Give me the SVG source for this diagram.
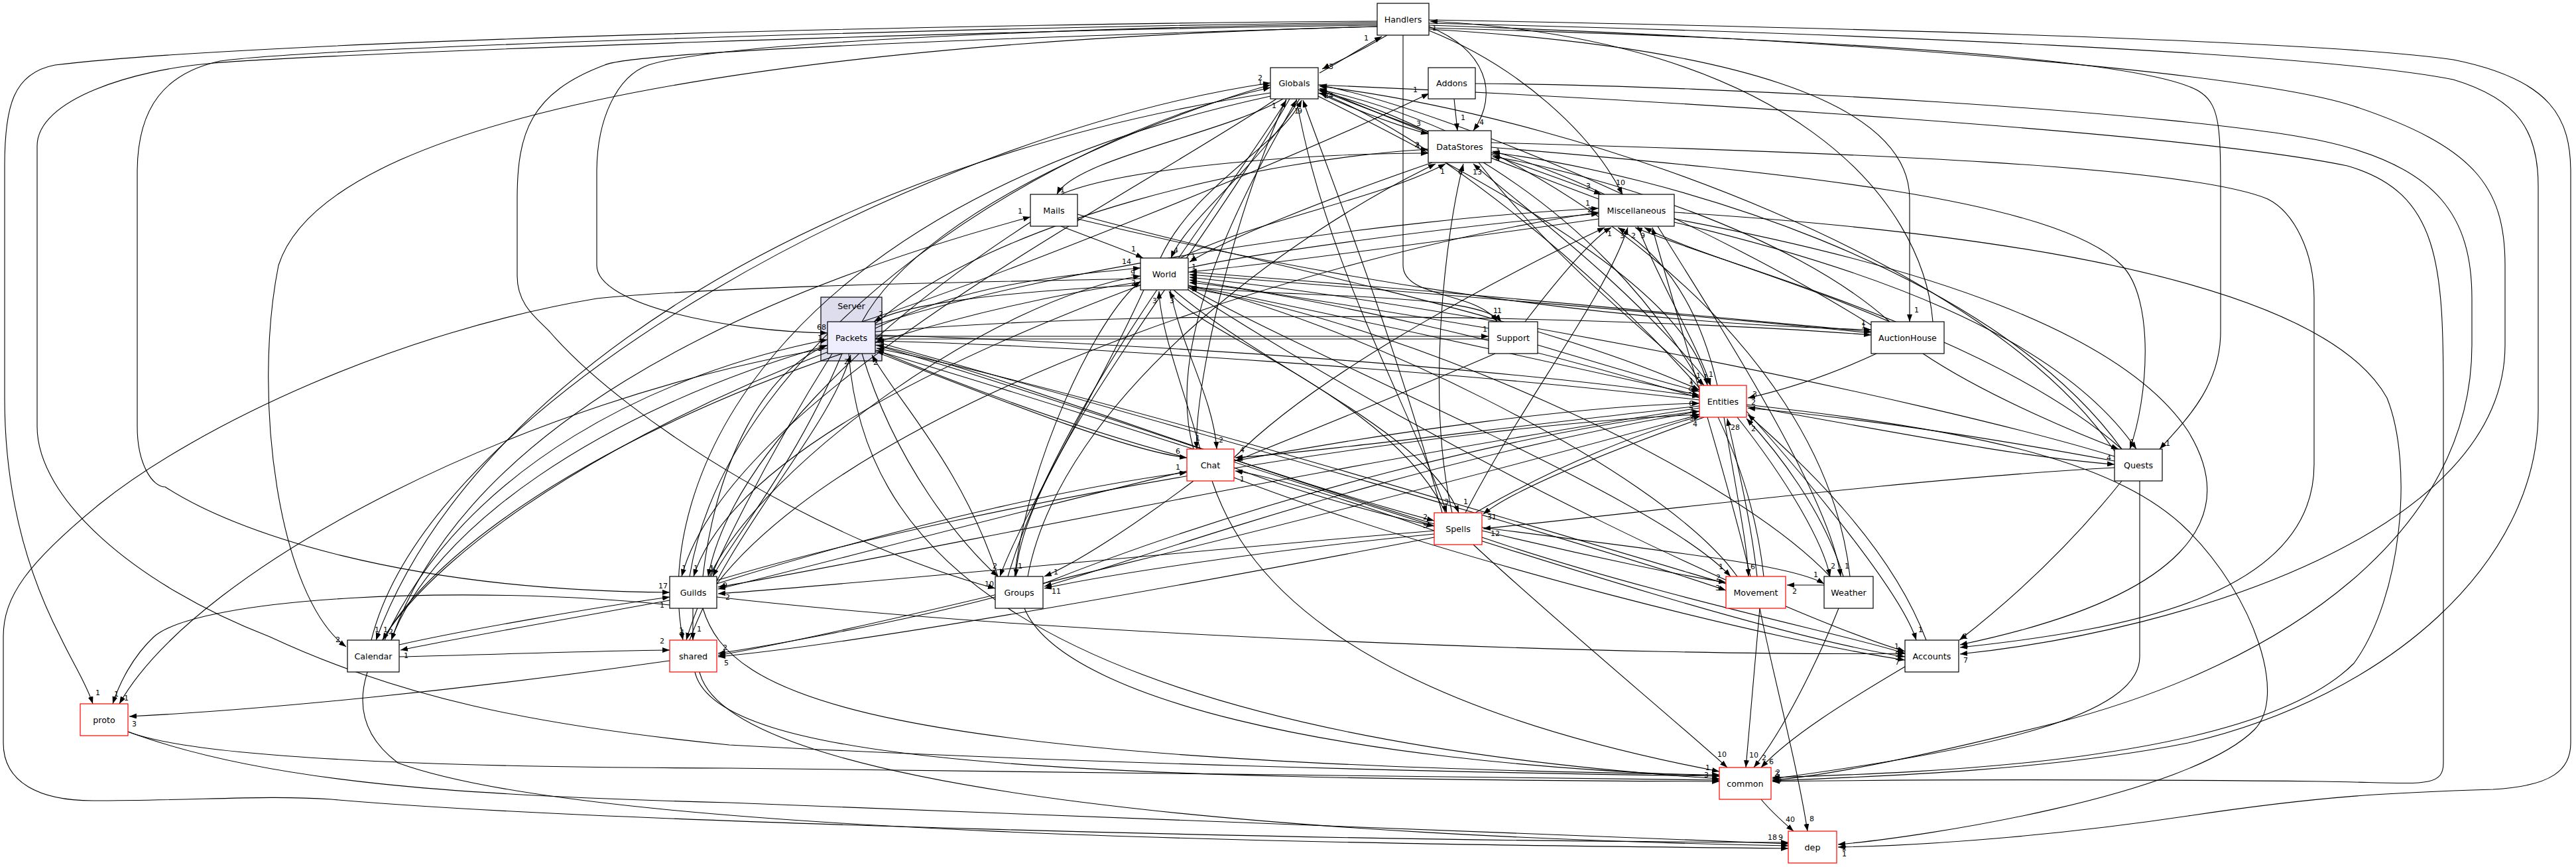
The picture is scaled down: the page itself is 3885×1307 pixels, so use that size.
<svg xmlns="http://www.w3.org/2000/svg" width="3885" height="1307" viewBox="0 0 3885 1307">
<style>
.bg{fill:#fff}
.n rect{fill:#fff;stroke:#000;stroke-width:1.2}
.r rect{stroke:#f00}
.p rect{fill:#eeeeff}
.cl{fill:#ddddee;stroke:#000;stroke-width:1.2}
.t{font-family:"DejaVu Sans",sans-serif;font-size:12.7px;text-anchor:middle;fill:#000}
.e{fill:none;stroke:#000;stroke-width:1.1;marker-end:url(#a)}
.l{font-family:"DejaVu Sans",sans-serif;font-size:11px;fill:#000}
</style>
<defs>
<marker id="a" markerUnits="userSpaceOnUse" markerWidth="11" markerHeight="8" refX="11" refY="4" orient="auto">
<path d="M0,0 L11,4 L0,8 z" fill="#000"/>
</marker>
</defs>
<rect class="bg" x="0" y="0" width="3885" height="1307"/>
<g id="cluster_Server">
<rect class="cl" x="1238" y="448" width="92" height="96"/>
<text class="t" x="1284" y="466">Server</text>
</g>
<g id="connectors">
<path class="e" d="M2092,53 C2060,72 2025,90 1994,104"/><text class="l" x="1997" y="104">43</text>
<path class="e" d="M1990,110 C2022,92 2052,73 2084,55"/><text class="l" x="2057" y="61">1</text>
<path class="e" d="M2155,40 C2240,75 2262,140 2222,197"/><text class="l" x="2231" y="188">4</text>
<path class="e" d="M2155,46 C2290,100 2400,200 2447,293"/><text class="l" x="2437" y="279">10</text>
<path class="e" d="M1988,140 C2050,168 2110,190 2154,202"/><text class="l" x="2136" y="190">3</text>
<path class="e" d="M2193,149 L2198,197"/><text class="l" x="2203" y="181">1</text>
<path class="e" d="M1300,485 C1500,420 1950,240 2155,141"/><text class="l" x="2131" y="139">1</text>
<path class="e" d="M2225,126 C2600,128 3300,170 3500,212 C3680,250 3728,330 3728,450 L3728,520 C3728,800 3450,1000 3100,1090 C2900,1140 2750,1170 2673,1176"/><text class="l" x="2678" y="1168">2</text>
<path class="e" d="M2116,53 L2116,400 C2116,450 2230,440 2258,485"/><text class="l" x="2252" y="472">1</text>
<path class="e" d="M1792,432 C1950,450 2230,440 2264,485"/><text class="l" x="2258" y="472">1</text>
<path class="e" d="M1320,507 L2245,507"/><text class="l" x="2236" y="500">1</text>
<path class="e" d="M2245,511 L1320,511"/><text class="l" x="1326" y="527">1</text>
<path class="e" d="M1935,149 C1850,200 1620,240 1594,293"/><text class="l" x="1599" y="290">1</text>
<path class="e" d="M590,965 C700,650 1100,450 1554,327"/><text class="l" x="1535" y="322">1</text>
<path class="e" d="M1600,341 C1650,360 1700,378 1724,389"/><text class="l" x="1706" y="379">1</text>
<path class="e" d="M1625,323 C1900,400 2300,470 2563,588"/><text class="l" x="2547" y="578">1</text>
<path class="e" d="M1625,330 C1965,413 2400,487 2822,497"/><text class="l" x="2807" y="490">1</text>
<path class="e" d="M1960,149 C1900,250 1790,330 1766,389"/><text class="l" x="1770" y="381">4</text>
<path class="e" d="M1750,389 C1800,280 1930,220 1963,151"/><text class="l" x="1957" y="171">9</text>
<path class="e" d="M2160,245 C2000,300 1850,360 1794,395"/><text class="l" x="1796" y="390">1</text>
<path class="e" d="M1780,389 C1900,330 2080,300 2180,247"/><text class="l" x="2172" y="262">1</text>
<path class="e" d="M2411,330 C2200,360 1900,400 1794,410"/><text class="l" x="1797" y="406">1</text>
<path class="e" d="M1792,404 C1900,380 2200,340 2411,322"/><text class="l" x="2394" y="320">2</text>
<path class="e" d="M2563,600 C2300,520 1950,440 1794,426"/><text class="l" x="1797" y="439">5</text>
<path class="e" d="M1792,430 C2000,470 2400,560 2563,596"/><text class="l" x="2546" y="592">9</text>
<path class="e" d="M1320,495 C1450,430 1600,415 1720,404"/><text class="l" x="1692" y="398">14</text>
<path class="e" d="M1720,430 C1500,440 1360,460 1318,485"/><text class="l" x="1325" y="477">2</text>
<path class="e" d="M1810,677 C1790,600 1750,500 1748,439"/><text class="l" x="1738" y="457">3</text>
<path class="e" d="M1765,437 C1780,520 1830,600 1835,677"/><text class="l" x="1838" y="667">2</text>
<path class="e" d="M2180,773 C2100,600 1800,500 1763,439"/><text class="l" x="1764" y="457">3</text>
<path class="e" d="M1070,869 C1150,700 1500,450 1720,416"/><text class="l" x="1705" y="415">9</text>
<path class="e" d="M1530,869 C1550,700 1650,480 1720,424"/><text class="l" x="1706" y="430">2</text>
<path class="e" d="M3189,688 C2900,600 2200,460 1794,418"/>
<path class="e" d="M2620,869 C2500,700 2000,470 1794,432"/>
<path class="e" d="M2760,869 C2600,700 2100,480 1794,435"/>
<path class="e" d="M2822,502 C2500,470 2000,430 1794,414"/>
<path class="e" d="M2245,495 C2100,470 1900,440 1794,422"/>
<path class="e" d="M1988,135 C2150,200 2330,260 2415,293"/><text class="l" x="2392" y="284">3</text>
<path class="e" d="M1320,490 C1600,400 2100,330 2411,314"/><text class="l" x="2391" y="310">1</text>
<path class="e" d="M1081,880 C1300,600 2000,380 2411,320"/>
<path class="e" d="M2590,581 C2560,450 2500,380 2440,343"/><text class="l" x="2424" y="356">1</text>
<path class="e" d="M2470,341 C2500,420 2560,520 2580,581"/><text class="l" x="2569" y="572">1</text>
<path class="e" d="M2210,773 C2300,600 2420,450 2455,343"/><text class="l" x="2443" y="359">3</text>
<path class="e" d="M3200,677 C3000,500 2600,400 2466,343"/><text class="l" x="2460" y="359">2</text>
<path class="e" d="M2850,485 C2700,420 2550,380 2480,343"/><text class="l" x="2474" y="359">9</text>
<path class="e" d="M2640,869 C2600,700 2520,450 2492,343"/>
<path class="e" d="M2300,485 C2350,420 2400,360 2430,343"/>
<path class="e" d="M1861,690 C2000,550 2300,400 2420,343"/>
<path class="e" d="M2411,300 C2250,240 2050,160 1990,133"/><text class="l" x="1997" y="148">24</text>
<path class="e" d="M2420,293 C2350,260 2280,235 2251,228"/><text class="l" x="2255" y="242">2</text>
<path class="e" d="M1320,488 C1500,330 1900,240 2154,225"/><text class="l" x="2134" y="224">4</text>
<path class="e" d="M1600,293 C1700,250 2000,230 2154,231"/><text class="l" x="2134" y="222">2</text>
<path class="e" d="M2580,581 C2450,420 2280,300 2222,247"/><text class="l" x="2221" y="263">13</text>
<path class="e" d="M2190,773 C2150,600 2180,350 2207,247"/><text class="l" x="2199" y="263">6</text>
<path class="e" d="M3200,677 C3000,400 2500,260 2251,230"/><text class="l" x="2256" y="232">1</text>
<path class="e" d="M2850,485 C2700,350 2400,260 2251,236"/>
<path class="e" d="M2230,245 C2350,400 2520,530 2570,581"/><text class="l" x="2558" y="570">1</text>
<path class="e" d="M1550,869 C1600,600 1950,350 2165,247"/>
<path class="e" d="M1300,485 C1400,300 1800,160 1916,128"/><text class="l" x="1897" y="121">2</text>
<path class="e" d="M560,965 C650,600 1400,200 1916,125"/><text class="l" x="1897" y="128">1</text>
<path class="e" d="M1040,869 C1100,500 1600,200 1916,132"/>
<path class="e" d="M1520,869 C1600,600 1850,300 1940,151"/><text class="l" x="1918" y="163">1</text>
<path class="e" d="M2563,585 C2400,400 2150,200 1990,140"/>
<path class="e" d="M2175,773 C2100,500 2000,250 1965,151"/>
<path class="e" d="M3189,680 C3000,400 2400,180 1990,130"/>
<path class="e" d="M2822,490 C2600,350 2200,170 1990,128"/>
<path class="e" d="M1800,677 C1750,500 1900,250 1955,151"/><text class="l" x="1952" y="171">1</text>
<path class="e" d="M2790,869 C2750,500 2300,200 1990,135"/>
<path class="e" d="M2660,869 C2620,500 2300,220 1990,137"/>
<path class="e" d="M2077,36 C1700,40 1100,60 978,98 C930,115 900,180 900,260 L900,400 C900,460 1100,500 1248,502"/><text class="l" x="1232" y="497">68</text>
<path class="e" d="M1060,869 C1080,700 1150,560 1248,520"/><text class="l" x="1233" y="529">1</text>
<path class="e" d="M580,965 C700,700 1000,560 1248,512"/><text class="l" x="1233" y="513">1</text>
<path class="e" d="M2563,603 C2200,560 1600,520 1322,514"/>
<path class="e" d="M1505,869 C1450,700 1350,600 1315,535"/><text class="l" x="1317" y="550">2</text>
<path class="e" d="M1040,965 C1100,800 1250,650 1283,535"/><text class="l" x="1273" y="549">2</text>
<path class="e" d="M2163,790 C1800,680 1500,560 1322,520"/>
<path class="e" d="M2603,880 C2200,760 1600,580 1322,525"/>
<path class="e" d="M1790,690 C1600,640 1400,560 1322,528"/>
<path class="e" d="M1320,530 C1500,600 1700,680 1790,690"/><text class="l" x="1773" y="684">6</text>
<path class="e" d="M1300,533 C1350,700 1450,820 1505,869"/>
<path class="e" d="M1270,533 C1200,700 1100,820 1075,869"/><text class="l" x="1070" y="862">1</text>
<path class="e" d="M1255,533 C1150,700 1060,880 1035,965"/><text class="l" x="1026" y="957">1</text>
<path class="e" d="M1250,520 C900,620 650,800 590,965"/><text class="l" x="586" y="956">2</text>
<path class="e" d="M1248,525 C800,600 300,850 180,1061"/><text class="l" x="187" y="1056">1</text>
<path class="e" d="M1280,533 C1300,800 1500,1100 2593,1174"/>
<path class="e" d="M1250,530 C800,700 400,1000 600,1150 C900,1260 2000,1272 2697,1279"/>
<path class="e" d="M1045,917 L1045,965"/><text class="l" x="1051" y="952">1</text>
<path class="e" d="M1010,905 C900,925 700,960 604,980"/><text class="l" x="609" y="992">1</text>
<path class="e" d="M602,972 C700,950 900,915 1010,900"/><text class="l" x="995" y="916">1</text>
<path class="e" d="M1060,917 C1100,1050 1300,1150 2593,1168"/>
<path class="e" d="M1081,900 C1600,960 2500,990 2873,985"/><text class="l" x="2857" y="978">1</text>
<path class="e" d="M1790,710 C1500,780 1200,860 1083,888"/><text class="l" x="1090" y="886">9</text>
<path class="e" d="M2163,800 C1800,830 1300,880 1083,895"/><text class="l" x="1094" y="904">2</text>
<path class="e" d="M2563,615 C2000,700 1300,850 1083,885"/>
<path class="e" d="M1800,725 C1700,800 1620,850 1575,869"/><text class="l" x="1589" y="866">1</text>
<path class="e" d="M2163,805 C1900,830 1650,870 1575,887"/><text class="l" x="1586" y="895">11</text>
<path class="e" d="M2563,620 C2100,700 1700,850 1575,884"/>
<path class="e" d="M1501,900 C1350,940 1150,975 1083,985"/><text class="l" x="1090" y="980">2</text>
<path class="e" d="M2163,810 C1800,880 1300,970 1083,990"/><text class="l" x="1092" y="1003">5</text>
<path class="e" d="M2563,625 C2000,780 1300,950 1083,988"/>
<path class="e" d="M1545,917 C1600,1050 2000,1150 2593,1170"/>
<path class="e" d="M2654,917 L2633,1157"/><text class="l" x="2638" y="1142">10</text>
<path class="e" d="M2654,917 C2670,1000 2710,1150 2726,1253"/><text class="l" x="2729" y="1238">8</text>
<path class="e" d="M2773,917 C2740,1000 2690,1100 2645,1157"/><text class="l" x="2657" y="1146">2</text>
<path class="e" d="M2873,1005 C2780,1060 2700,1110 2656,1157"/><text class="l" x="2668" y="1152">6</text>
<path class="e" d="M2222,821 C2350,940 2520,1080 2605,1157"/><text class="l" x="2590" y="1141">10</text>
<path class="e" d="M2656,1205 C2670,1222 2690,1240 2705,1253"/><text class="l" x="2693" y="1239">40</text>
<path class="e" d="M1828,725 C1870,850 2000,1050 2593,1163"/><text class="l" x="2572" y="1161">1</text>
<path class="e" d="M1048,1013 C1080,1150 1600,1175 2593,1178"/><text class="l" x="2570" y="1172">3</text>
<path class="e" d="M193,1103 C300,1145 700,1157 1100,1158 C1700,1165 2300,1175 2593,1176"/>
<path class="e" d="M193,1103 C400,1180 700,1200 1100,1210 C1800,1240 2500,1268 2697,1272"/><text class="l" x="2666" y="1266">1</text>
<path class="e" d="M1055,1013 C1100,1200 2000,1262 2697,1275"/><text class="l" x="2673" y="1266">8</text>
<path class="e" d="M1720,420 C1500,425 1100,430 900,450 C600,500 300,640 150,760 C40,850 5,900 5,960 L5,1120 C5,1180 60,1207 140,1207 C300,1207 400,1198 500,1205 C900,1240 2000,1268 2697,1270"/><text class="l" x="2682" y="1266">9</text>
<path class="e" d="M1010,996 C700,1040 400,1070 195,1080"/><text class="l" x="199" y="1095">3</text>
<path class="e" d="M3227,725 L3227,990 C3227,1080 3000,1130 2673,1174"/><text class="l" x="2680" y="1180">9</text>
<path class="e" d="M2155,30 C2700,40 3500,60 3700,90 C3850,120 3877,180 3877,260 L3877,1120 C3877,1160 3850,1185 3760,1190 C3600,1195 3500,1200 3300,1230 C3100,1260 2900,1275 2772,1277"/><text class="l" x="2778" y="1291">1</text>
<path class="e" d="M2155,35 C2800,50 3500,80 3700,120 C3800,150 3828,200 3828,280 L3828,620 C3828,850 3600,1050 3300,1120 C3100,1160 2850,1170 2673,1177"/><text class="l" x="2676" y="1170">2</text>
<path class="e" d="M2155,38 C2800,60 3400,110 3550,160 C3730,220 3778,280 3778,400 L3778,520 C3778,800 3300,950 2956,986"/><text class="l" x="2961" y="999">7</text>
<path class="e" d="M2155,42 C2800,60 3250,90 3320,140 C3349,160 3349,200 3349,300 L3349,500 C3349,580 3300,630 3257,677"/><text class="l" x="3266" y="672">1</text>
<path class="e" d="M1988,128 C2500,150 3300,200 3540,250 C3680,290 3685,400 3685,600 L3685,1150 C3685,1190 3650,1180 3500,1178 C3200,1175 2900,1175 2673,1178"/>
<path class="e" d="M2249,215 C2800,230 3300,250 3420,300 C3460,320 3490,380 3490,450 L3490,700 C3490,900 3200,950 2956,976"/><text class="l" x="2962" y="976">1</text>
<path class="e" d="M2525,320 C3000,350 3500,420 3600,600 C3640,700 3623,900 3550,1000 C3400,1150 2900,1165 2673,1172"/>
<path class="e" d="M2249,222 C2700,260 3100,300 3200,400 C3250,450 3240,600 3212,677"/><text class="l" x="3212" y="670">1</text>
<path class="e" d="M2525,330 C2900,400 3200,500 3300,650 C3380,780 3300,900 2956,972"/>
<path class="e" d="M2634,610 C3000,650 3200,700 3300,800 C3400,900 3450,1050 3400,1100 C3300,1200 2900,1262 2772,1273"/><text class="l" x="2778" y="1282">2</text>
<path class="e" d="M2525,335 C2800,400 3100,500 3222,677"/>
<path class="e" d="M2155,44 C2600,70 2880,150 2880,300 L2880,485"/><text class="l" x="2887" y="471">1</text>
<path class="e" d="M2915,485 C2900,300 2700,60 2157,32"/><text class="l" x="2160" y="46">1</text>
<path class="e" d="M2570,629 C2400,690 2280,740 2237,775"/><text class="l" x="2243" y="783">31</text>
<path class="e" d="M3189,705 C2900,720 2500,770 2237,797"/><text class="l" x="2248" y="808">12</text>
<path class="e" d="M2225,773 C2350,700 2480,650 2565,627"/><text class="l" x="2553" y="643">4</text>
<path class="e" d="M1955,149 C2000,400 2120,600 2182,773"/><text class="l" x="2178" y="760">3</text>
<path class="e" d="M1770,437 C1900,550 2150,650 2200,773"/><text class="l" x="2207" y="760">1</text>
<path class="e" d="M1320,520 C1600,600 1950,730 2163,785"/><text class="l" x="2146" y="783">2</text>
<path class="e" d="M1861,705 C1950,740 2100,780 2163,793"/><text class="l" x="2146" y="796">5</text>
<path class="e" d="M2235,800 C2400,840 2550,870 2603,878"/><text class="l" x="2588" y="874">2</text>
<path class="e" d="M2235,795 C2500,830 2700,850 2751,880"/><text class="l" x="2735" y="870">1</text>
<path class="e" d="M2235,810 C2500,900 2800,960 2873,985"/>
<path class="e" d="M2163,800 C2050,760 1930,720 1863,710"/><text class="l" x="1870" y="726">1</text>
<path class="e" d="M2600,629 C2620,750 2635,820 2637,869"/><text class="l" x="2640" y="858">6</text>
<path class="e" d="M2650,869 C2640,780 2620,700 2605,631"/><text class="l" x="2610" y="648">28</text>
<path class="e" d="M2751,882 L2695,882"/><text class="l" x="2703" y="895">2</text>
<path class="e" d="M1792,433 C2000,550 2500,750 2610,869"/><text class="l" x="2592" y="858">1</text>
<path class="e" d="M1320,515 C1800,650 2400,820 2603,890"/><text class="l" x="2587" y="890">3</text>
<path class="e" d="M2620,629 C2700,730 2750,820 2760,869"/><text class="l" x="2761" y="857">2</text>
<path class="e" d="M2780,869 C2750,770 2680,680 2634,631"/><text class="l" x="2641" y="650">2</text>
<path class="e" d="M2500,341 C2600,500 2760,750 2776,869"/><text class="l" x="2782" y="857">1</text>
<path class="e" d="M2634,620 C2750,750 2870,900 2890,965"/><text class="l" x="2893" y="953">1</text>
<path class="e" d="M2905,965 C2850,820 2720,700 2636,625"/>
<path class="e" d="M1792,437 C2200,700 2700,930 2873,982"/>
<path class="e" d="M3200,725 C3100,850 3000,930 2955,965"/><text class="l" x="2961" y="963">1</text>
<path class="e" d="M1320,528 C1900,700 2600,950 2873,990"/><text class="l" x="2858" y="990">5</text>
<path class="e" d="M1861,720 C2200,850 2700,970 2873,995"/><text class="l" x="2858" y="1002">7</text>
<path class="e" d="M2634,612 C2850,650 3050,690 3189,700"/><text class="l" x="3177" y="694">4</text>
<path class="e" d="M3189,695 C3000,660 2800,630 2636,615"/><text class="l" x="2641" y="610">2</text>
<path class="e" d="M2900,533 C3000,600 3150,660 3195,677"/>
<path class="e" d="M2830,533 C2750,570 2680,590 2636,600"/><text class="l" x="2643" y="598">3</text>
<path class="e" d="M1792,410 C2200,440 2600,480 2822,500"/><text class="l" x="2807" y="495">1</text>
<path class="e" d="M1320,500 C1800,460 2500,480 2822,505"/>
<path class="e" d="M1988,145 C2300,300 2550,450 2575,581"/><text class="l" x="2577" y="568">1</text>
<path class="e" d="M1320,505 C1800,520 2300,560 2563,598"/>
<path class="e" d="M1861,695 C2100,650 2400,610 2563,608"/><text class="l" x="2547" y="612">6</text>
<path class="e" d="M1573,880 C1900,750 2300,650 2563,620"/><text class="l" x="2547" y="622">7</text>
<path class="e" d="M1081,875 C1500,750 2200,640 2563,625"/><text class="l" x="2548" y="634">3</text>
<path class="e" d="M2319,520 C2420,550 2500,575 2563,590"/><text class="l" x="2548" y="583">1</text>
<path class="e" d="M2563,612 C2300,640 2000,680 1863,690"/><text class="l" x="1870" y="682">4</text>
<path class="e" d="M1940,149 C1850,350 1800,600 1805,677"/><text class="l" x="1803" y="664">1</text>
<path class="e" d="M2255,533 C2100,600 1950,660 1863,695"/>
<path class="e" d="M1081,880 C1400,780 1650,730 1790,712"/><text class="l" x="1773" y="708">1</text>
<path class="e" d="M1725,437 C1650,600 1540,780 1508,869"/><text class="l" x="1497" y="857">2</text>
<path class="e" d="M1945,149 C1800,400 1540,700 1532,869"/><text class="l" x="1535" y="857">1</text>
<path class="e" d="M2077,40 C1400,60 950,80 912,98 C800,140 780,200 780,300 L780,416 C780,460 810,480 829,500 C950,640 1250,820 1501,887"/><text class="l" x="1485" y="884">10</text>
<path class="e" d="M1925,149 C1700,300 1100,600 1028,869"/><text class="l" x="1028" y="860">1</text>
<path class="e" d="M1720,430 C1400,550 1100,700 1046,869"/><text class="l" x="1046" y="860">1</text>
<path class="e" d="M1554,335 C1300,500 1100,700 1068,869"/><text class="l" x="1070" y="860">1</text>
<path class="e" d="M2077,34 C1500,40 500,70 332,92 C250,110 207,160 207,260 L207,643 C207,700 230,734 249,734 C350,800 600,890 1010,893"/><text class="l" x="993" y="887">17</text>
<path class="e" d="M2077,32 C1500,35 400,60 83,98 C20,110 7,160 7,250 L7,600 C7,780 60,900 91,960 C110,1000 130,1030 140,1061"/><text class="l" x="144" y="1048">1</text>
<path class="e" d="M2077,38 C1500,45 500,80 323,95 C200,105 56,150 56,220 L56,643 C56,750 200,880 407,960 C600,1050 800,1093 1100,1123 C1600,1150 2200,1165 2593,1170"/>
<path class="e" d="M1916,140 C1200,250 700,600 567,965"/><text class="l" x="565" y="953">1</text>
<path class="e" d="M1720,425 C1200,500 700,750 577,965"/><text class="l" x="578" y="953">1</text>
<path class="e" d="M2077,40 C1300,60 500,150 420,400 C380,600 420,900 522,975"/><text class="l" x="506" y="968">2</text>
<path class="e" d="M1916,145 C1200,300 980,700 1030,965"/><text class="l" x="1024" y="954">1</text>
<path class="e" d="M602,990 C800,985 950,980 1010,980"/><text class="l" x="995" y="970">2</text>
<path class="e" d="M1010,912 C700,880 300,900 232,960 C200,990 180,1030 170,1061"/><text class="l" x="172" y="1050">1</text>
</g>
<g id="node_Handlers" class="n"><rect x="2077" y="5" width="78" height="48"/><text class="t" x="2116" y="33.5">Handlers</text></g>
<g id="node_Globals" class="n"><rect x="1916" y="102" width="72" height="47"/><text class="t" x="1952" y="130">Globals</text></g>
<g id="node_Addons" class="n"><rect x="2154" y="102" width="71" height="47"/><text class="t" x="2189.5" y="130">Addons</text></g>
<g id="node_DataStores" class="n"><rect x="2154" y="197" width="95" height="48"/><text class="t" x="2201.5" y="225.5">DataStores</text></g>
<g id="node_Mails" class="n"><rect x="1554" y="293" width="71" height="48"/><text class="t" x="1589.5" y="321.5">Mails</text></g>
<g id="node_Miscellaneous" class="n"><rect x="2411" y="293" width="114" height="48"/><text class="t" x="2468" y="321.5">Miscellaneous</text></g>
<g id="node_World" class="n"><rect x="1720" y="389" width="72" height="48"/><text class="t" x="1756" y="417.5">World</text></g>
<g id="node_Packets" class="n p"><rect x="1248" y="485" width="72" height="48"/><text class="t" x="1284" y="513.5">Packets</text></g>
<g id="node_Support" class="n"><rect x="2245" y="485" width="74" height="48"/><text class="t" x="2282" y="513.5">Support</text></g>
<g id="node_AuctionHouse" class="n"><rect x="2822" y="485" width="110" height="48"/><text class="t" x="2877" y="513.5">AuctionHouse</text></g>
<g id="node_Entities" class="n r"><rect x="2563" y="581" width="71" height="48"/><text class="t" x="2598.5" y="609.5">Entities</text></g>
<g id="node_Chat" class="n r"><rect x="1790" y="677" width="71" height="48"/><text class="t" x="1825.5" y="705.5">Chat</text></g>
<g id="node_Quests" class="n"><rect x="3189" y="677" width="72" height="48"/><text class="t" x="3225" y="705.5">Quests</text></g>
<g id="node_Spells" class="n r"><rect x="2163" y="773" width="72" height="48"/><text class="t" x="2199" y="801.5">Spells</text></g>
<g id="node_Guilds" class="n"><rect x="1010" y="869" width="71" height="48"/><text class="t" x="1045.5" y="897.5">Guilds</text></g>
<g id="node_Groups" class="n"><rect x="1501" y="869" width="72" height="48"/><text class="t" x="1537" y="897.5">Groups</text></g>
<g id="node_Movement" class="n r"><rect x="2603" y="869" width="90" height="48"/><text class="t" x="2648" y="897.5">Movement</text></g>
<g id="node_Weather" class="n"><rect x="2751" y="869" width="74" height="48"/><text class="t" x="2788" y="897.5">Weather</text></g>
<g id="node_Calendar" class="n"><rect x="524" y="965" width="78" height="48"/><text class="t" x="563" y="993.5">Calendar</text></g>
<g id="node_shared" class="n r"><rect x="1010" y="965" width="71" height="48"/><text class="t" x="1045.5" y="993.5">shared</text></g>
<g id="node_Accounts" class="n"><rect x="2873" y="965" width="81" height="48"/><text class="t" x="2913.5" y="993.5">Accounts</text></g>
<g id="node_proto" class="n r"><rect x="121" y="1061" width="72" height="48"/><text class="t" x="157" y="1089.5">proto</text></g>
<g id="node_common" class="n r"><rect x="2593" y="1157" width="78" height="48"/><text class="t" x="2632" y="1185.5">common</text></g>
<g id="node_dep" class="n r"><rect x="2697" y="1253" width="73" height="48"/><text class="t" x="2733.5" y="1281.5">dep</text></g>
</svg>
